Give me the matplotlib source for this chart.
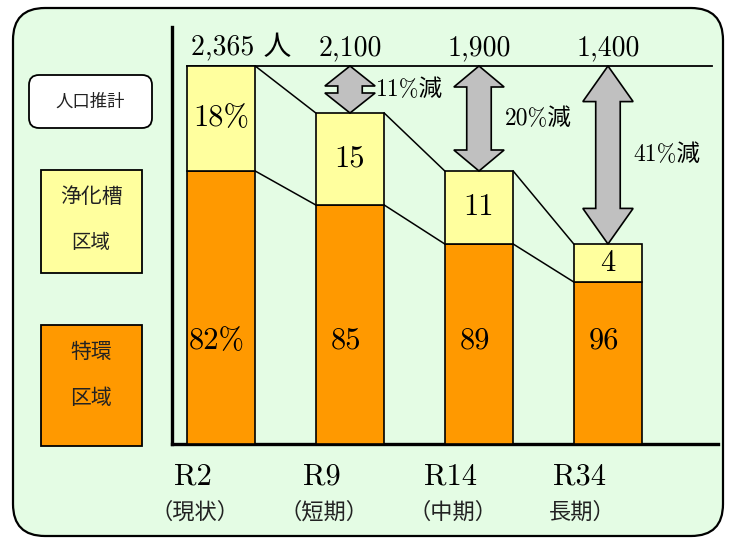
import matplotlib
matplotlib.use('Agg')
import matplotlib.pyplot as plt
from matplotlib.patches import FancyBboxPatch, Rectangle, Polygon

# data
periods = ['R2', 'R9', 'R14', 'R34']
period_names = ['（現状）', '（短期）', '（中期）', '長期）']
population = [2365, 2100, 1900, 1400]
septic_pct = [18, 15, 11, 4]
sewer_pct = [82, 85, 89, 96]
# drawn bar heights (schematic)
bar_total = [378, 331, 273, 200]
bar_lower = [273, 239, 200, 162]

num_font = ['cmr10', 'Noto Sans CJK JP']
jp_font = ['Noto Sans CJK JP', 'DejaVu Sans']

fig = plt.figure(figsize=(7.31, 5.42), dpi=100)

# background layer in pixel units
bg = fig.add_axes([0, 0, 1, 1])
bg.set_xlim(0, 731)
bg.set_ylim(542, 0)
bg.axis('off')
bg.add_patch(FancyBboxPatch((13, 8), 710, 528, boxstyle='round,pad=0,rounding_size=32',
                            fc='#E4FCE4', ec='black', lw=1.6))
bg.add_patch(FancyBboxPatch((29, 75), 123, 53, boxstyle='round,pad=0,rounding_size=10',
                            fc='white', ec='black', lw=1.3))
bg.text(90, 102, '人口推計', family=jp_font, fontsize=12.5, ha='center', va='center', color='#222222')
bg.add_patch(Rectangle((41, 170), 101, 103, fc='#FFFF9E', ec='black', lw=1.3))
bg.text(91, 197, '浄化槽', family=jp_font, fontsize=15, ha='center', va='center', color='#222222')
bg.text(91, 243, '区域', family=jp_font, fontsize=14, ha='center', va='center', color='#222222')
bg.add_patch(Rectangle((41, 325), 101, 121, fc='#FF9900', ec='black', lw=1.3))
bg.text(91, 352, '特環', family=jp_font, fontsize=15, ha='center', va='center', color='#222222')
bg.text(91, 398, '区域', family=jp_font, fontsize=15, ha='center', va='center', color='#222222')

# chart layer
ax = fig.add_axes([172 / 731, 1 - 444 / 542, 546 / 731, 417 / 542])
ax.patch.set_alpha(0)
ax.set_xlim(-0.38, 3.853)
ax.set_ylim(0, 417)
for s in ['top', 'right']:
    ax.spines[s].set_visible(False)
ax.spines['left'].set_linewidth(2.4)
ax.spines['bottom'].set_linewidth(2.4)
ax.set_xticks([])
ax.set_yticks([])

x = list(range(len(periods)))
w = 0.53
upper = [t - l for t, l in zip(bar_total, bar_lower)]
ax.bar(x, bar_lower, w, color='#FF9900', edgecolor='black', lw=1.2, zorder=3)
ax.bar(x, upper, w, bottom=bar_lower, color='#FFFF9E', edgecolor='black', lw=1.2, zorder=3)

# connecting lines
for i in range(len(x) - 1):
    ax.plot([x[i] + w / 2, x[i + 1] - w / 2], [bar_total[i], bar_total[i + 1]], color='black', lw=1.1, zorder=2)
    ax.plot([x[i] + w / 2, x[i + 1] - w / 2], [bar_lower[i], bar_lower[i + 1]], color='black', lw=1.1, zorder=2)

# reference line at current population
top = bar_total[0]
ax.plot([x[0] - w / 2, 3.81], [top, top], color='black', lw=1.3, zorder=2)

# population labels
ax.text(x[0] - w / 2 + 0.03, top + 5, f'{population[0]:,} 人', family=num_font, fontsize=20,
        ha='left', va='bottom')
for i in x[1:]:
    ax.text(i, top + 5, f'{population[i]:,}', family=num_font, fontsize=20, ha='center', va='bottom')

# reduction arrows
sw, hw = 0.095, 0.195
for i in x[1:]:
    bot = bar_total[i]
    hl = max(20, 0.2 * (top - bot))
    pts = [(i, top), (i + hw, top - hl), (i + sw, top - hl), (i + sw, bot + hl), (i + hw, bot + hl),
           (i, bot), (i - hw, bot + hl), (i - sw, bot + hl), (i - sw, top - hl), (i - hw, top - hl)]
    ax.add_patch(Polygon(pts, closed=True, fc='#C0C0C0', ec='black', lw=1.2, zorder=4))
    red = round((1 - population[i] / population[0]) * 100)
    ax.text(i + 0.2, (top + bot) / 2, f'{red}%減', family=num_font, fontsize=17,
            ha='left', va='center', zorder=5)

# percent labels
for i in x:
    suf = '%' if i == 0 else ''
    ax.text(i, (bar_lower[i] + bar_total[i]) / 2, f'{septic_pct[i]}{suf}', family=num_font,
            fontsize=22, ha='center', va='center', zorder=5)
    ax.text(i - 0.03, 103, f'{sewer_pct[i]}{suf}', family=num_font, fontsize=22,
            ha='center', va='center', zorder=5)

# category labels
for i in x:
    ax.text(i - 0.22, -33, periods[i], family=num_font, fontsize=22, ha='center', va='center',
            clip_on=False)
    ax.text(i - 0.2, -68, period_names[i], family=jp_font, fontsize=16, ha='center', va='center',
            clip_on=False, color='#222222')

fig.savefig('out.png', dpi=100)
